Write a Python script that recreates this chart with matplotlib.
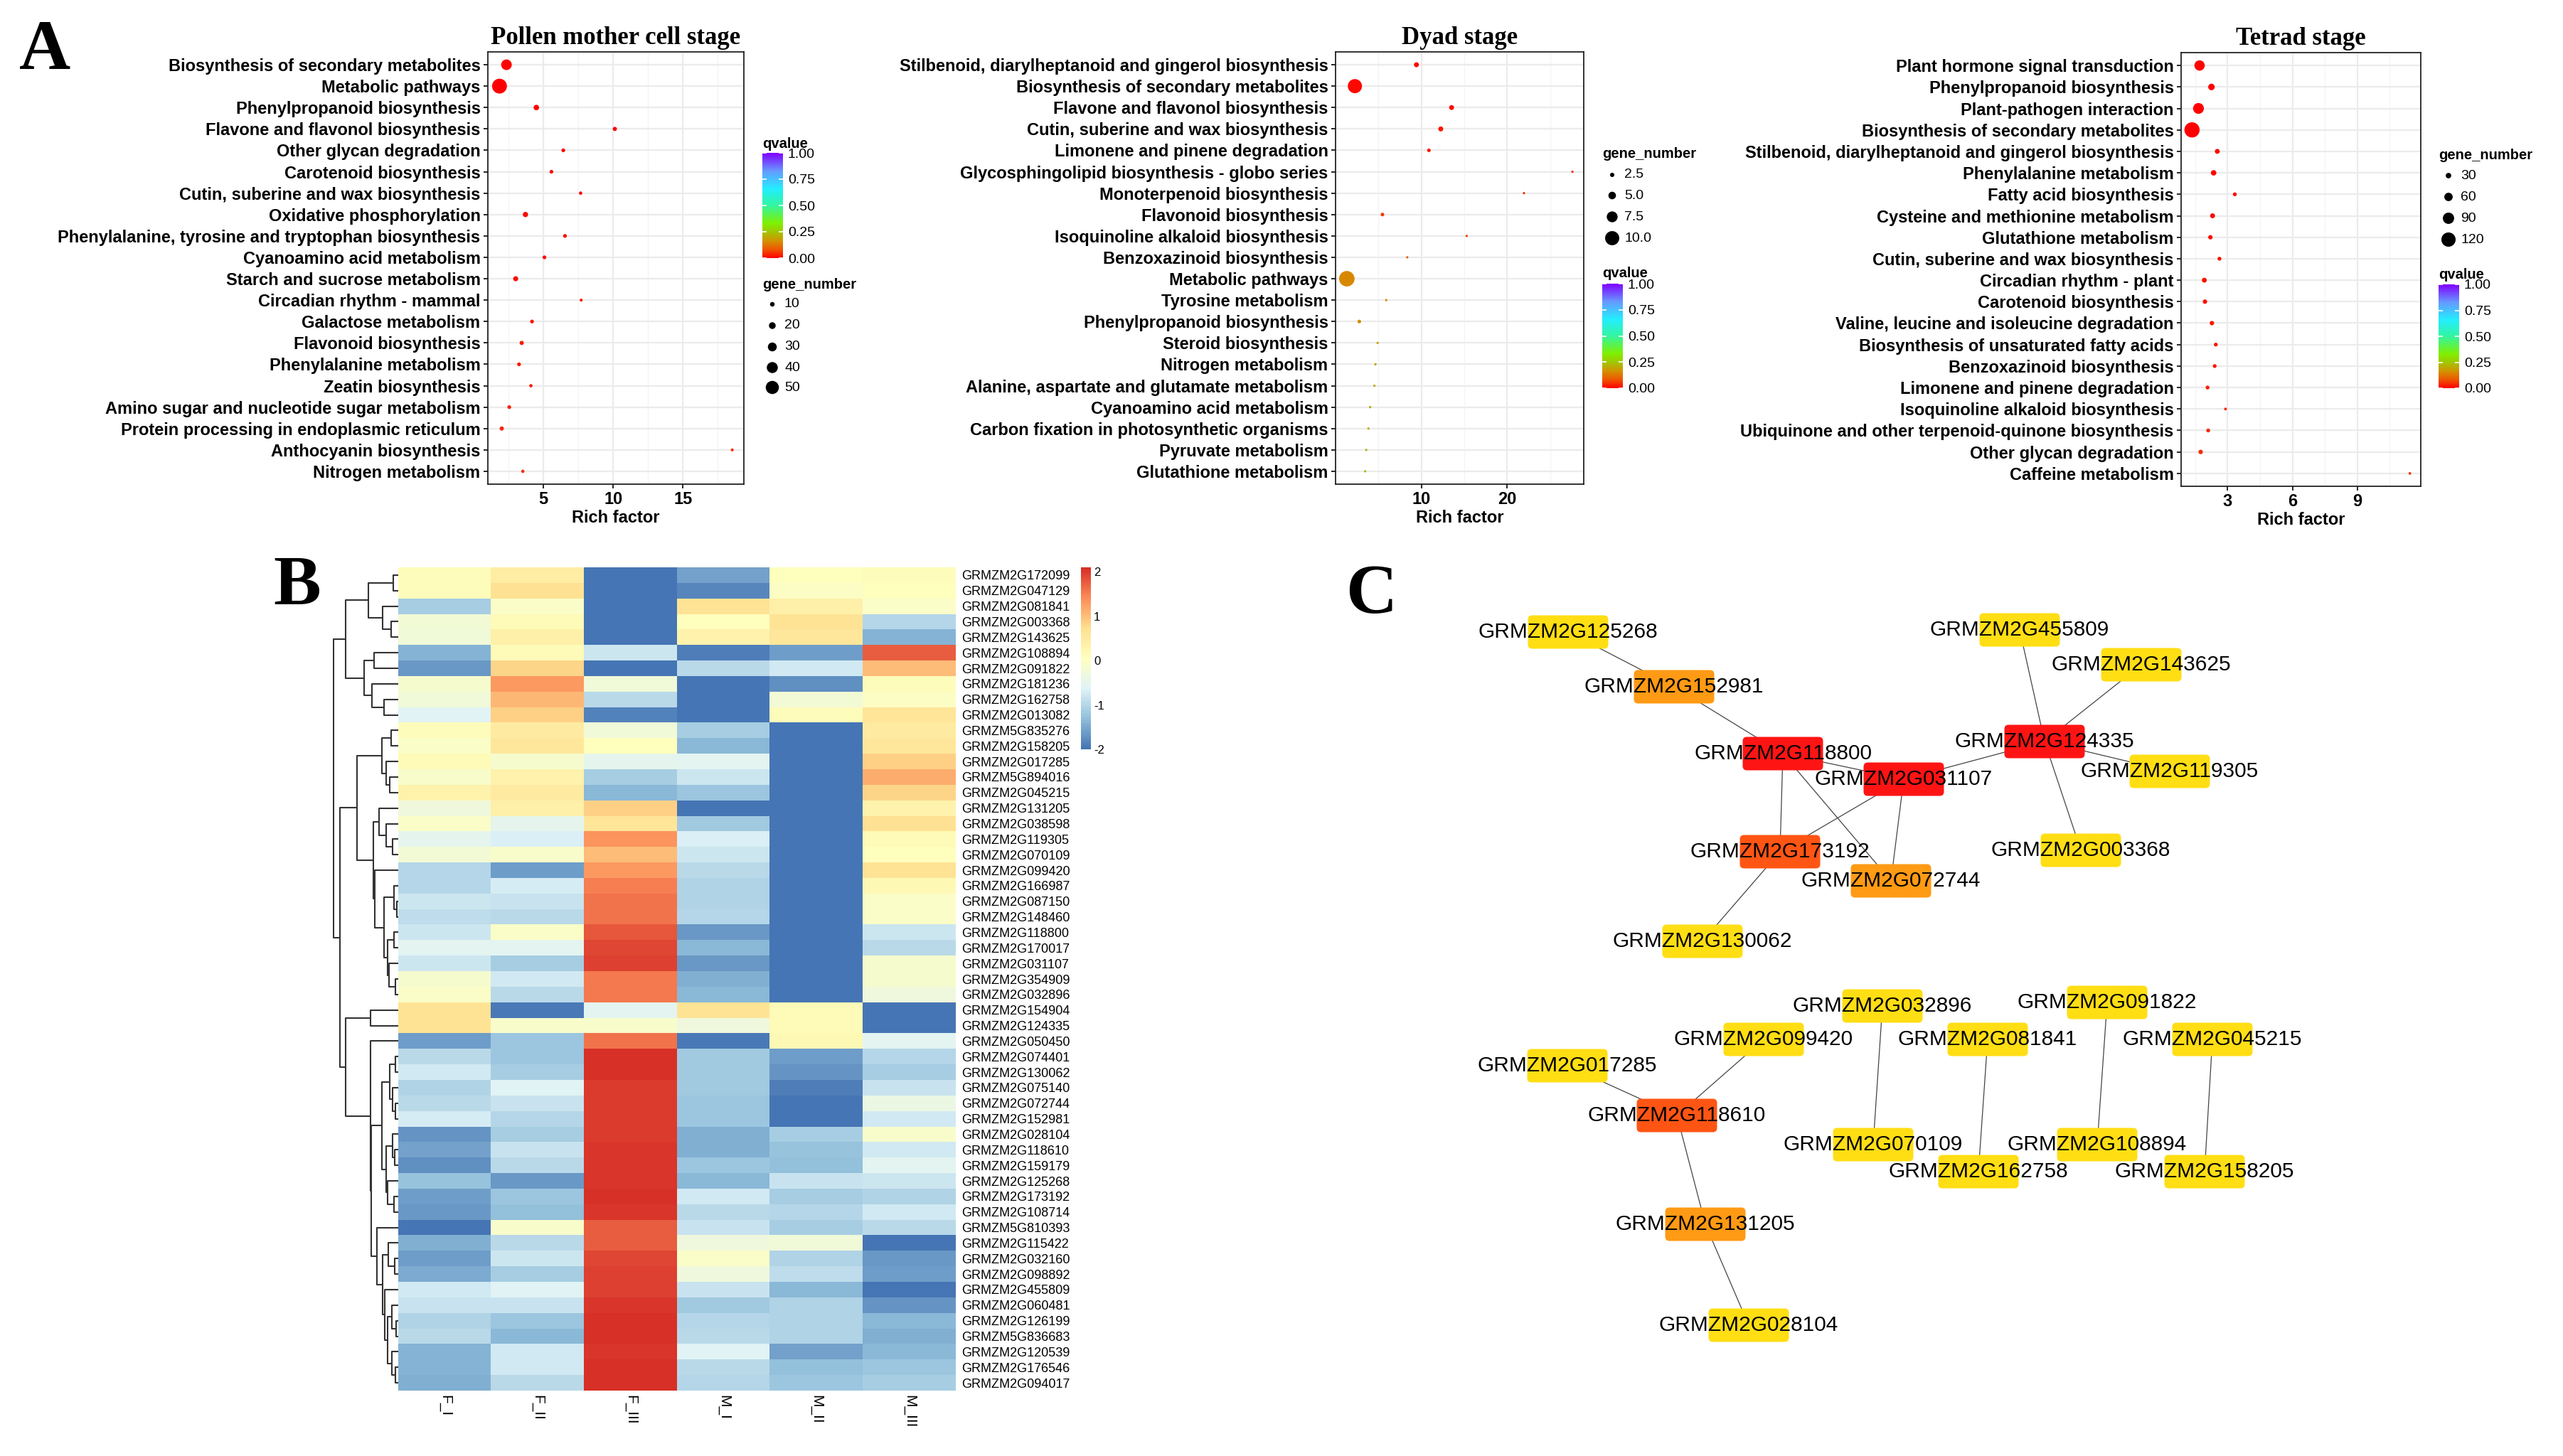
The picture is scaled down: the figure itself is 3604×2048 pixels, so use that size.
import numpy as np
import matplotlib
matplotlib.use("Agg")
import matplotlib.pyplot as plt
from matplotlib.colors import LinearSegmentedColormap, Normalize
from matplotlib.patches import FancyBboxPatch
import matplotlib as mpl

plt.rcParams['font.family'] = ['Liberation Sans', 'DejaVu Sans']

W, H = 3604, 2048

# ---------------- panel A data ----------------
pmc_terms = ["Biosynthesis of secondary metabolites", "Metabolic pathways", "Phenylpropanoid biosynthesis",
             "Flavone and flavonol biosynthesis", "Other glycan degradation", "Carotenoid biosynthesis",
             "Cutin, suberine and wax biosynthesis", "Oxidative phosphorylation",
             "Phenylalanine, tyrosine and tryptophan biosynthesis", "Cyanoamino acid metabolism",
             "Starch and sucrose metabolism", "Circadian rhythm - mammal", "Galactose metabolism",
             "Flavonoid biosynthesis", "Phenylalanine metabolism", "Zeatin biosynthesis",
             "Amino sugar and nucleotide sugar metabolism", "Protein processing in endoplasmic reticulum",
             "Anthocyanin biosynthesis", "Nitrogen metabolism"]
pmc_rich = [2.36, 1.86, 4.5, 10.12, 6.43, 5.58, 7.67, 3.72, 6.55, 5.08, 3.02, 7.71, 4.19, 3.45, 3.26,
            4.11, 2.56, 2.02, 18.53, 3.53]
pmc_genes = [38, 58, 14, 8, 6, 6, 4, 13, 6, 6, 12, 2, 6, 8, 6, 4, 6, 8, 2, 4]
pmc_q = [0.0005, 0.001, 0.002, 0.004, 0.006, 0.008, 0.01, 0.01, 0.012, 0.013, 0.015, 0.02, 0.022,
         0.024, 0.026, 0.03, 0.032, 0.036, 0.04, 0.045]

dyad_terms = ["Stilbenoid, diarylheptanoid and gingerol biosynthesis", "Biosynthesis of secondary metabolites",
              "Flavone and flavonol biosynthesis", "Cutin, suberine and wax biosynthesis",
              "Limonene and pinene degradation", "Glycosphingolipid biosynthesis - globo series",
              "Monoterpenoid biosynthesis", "Flavonoid biosynthesis", "Isoquinoline alkaloid biosynthesis",
              "Benzoxazinoid biosynthesis", "Metabolic pathways", "Tyrosine metabolism",
              "Phenylpropanoid biosynthesis", "Steroid biosynthesis", "Nitrogen metabolism",
              "Alanine, aspartate and glutamate metabolism", "Cyanoamino acid metabolism",
              "Carbon fixation in photosynthetic organisms", "Pyruvate metabolism", "Glutathione metabolism"]
dyad_rich = [9.43, 2.26, 13.52, 12.26, 10.88, 27.6, 21.95, 5.47, 15.28, 8.36, 1.32, 5.91, 2.77, 4.91,
             4.65, 4.53, 4.03, 3.84, 3.58, 3.46]
dyad_genes = [3, 10, 3, 3, 2, 1, 1, 2, 1, 1, 11, 1, 2, 1, 1, 1, 1, 1, 1, 1]
dyad_q = [0.005, 0.01, 0.015, 0.02, 0.025, 0.04, 0.045, 0.055, 0.06, 0.09, 0.15, 0.155, 0.16, 0.18,
          0.195, 0.2, 0.205, 0.21, 0.215, 0.22]

tet_terms = ["Plant hormone signal transduction", "Phenylpropanoid biosynthesis", "Plant-pathogen interaction",
             "Biosynthesis of secondary metabolites", "Stilbenoid, diarylheptanoid and gingerol biosynthesis",
             "Phenylalanine metabolism", "Fatty acid biosynthesis", "Cysteine and methionine metabolism",
             "Glutathione metabolism", "Cutin, suberine and wax biosynthesis", "Circadian rhythm - plant",
             "Carotenoid biosynthesis", "Valine, leucine and isoleucine degradation",
             "Biosynthesis of unsaturated fatty acids", "Benzoxazinoid biosynthesis",
             "Limonene and pinene degradation", "Isoquinoline alkaloid biosynthesis",
             "Ubiquinone and other terpenoid-quinone biosynthesis", "Other glycan degradation",
             "Caffeine metabolism"]
tet_rich = [1.7, 2.25, 1.65, 1.35, 2.52, 2.35, 3.33, 2.3, 2.2, 2.62, 1.92, 1.95, 2.27, 2.45, 2.4, 2.07,
            2.9, 2.1, 1.75, 11.43]
tet_genes = [80, 41, 85, 130, 24, 30, 13, 24, 19, 13, 24, 19, 19, 13, 13, 13, 2, 13, 19, 1]
tet_q = [0.0005, 0.001, 0.001, 0.002, 0.004, 0.006, 0.008, 0.01, 0.012, 0.014, 0.016, 0.018, 0.02,
         0.022, 0.025, 0.03, 0.034, 0.036, 0.04, 0.045]

# ---------------- panel B data ----------------
genes_b = ["GRMZM2G172099", "GRMZM2G047129", "GRMZM2G081841", "GRMZM2G003368", "GRMZM2G143625",
           "GRMZM2G108894", "GRMZM2G091822", "GRMZM2G181236", "GRMZM2G162758", "GRMZM2G013082",
           "GRMZM5G835276", "GRMZM2G158205", "GRMZM2G017285", "GRMZM5G894016", "GRMZM2G045215",
           "GRMZM2G131205", "GRMZM2G038598", "GRMZM2G119305", "GRMZM2G070109", "GRMZM2G099420",
           "GRMZM2G166987", "GRMZM2G087150", "GRMZM2G148460", "GRMZM2G118800", "GRMZM2G170017",
           "GRMZM2G031107", "GRMZM2G354909", "GRMZM2G032896", "GRMZM2G154904", "GRMZM2G124335",
           "GRMZM2G050450", "GRMZM2G074401", "GRMZM2G130062", "GRMZM2G075140", "GRMZM2G072744",
           "GRMZM2G152981", "GRMZM2G028104", "GRMZM2G118610", "GRMZM2G159179", "GRMZM2G125268",
           "GRMZM2G173192", "GRMZM2G108714", "GRMZM5G810393", "GRMZM2G115422", "GRMZM2G032160",
           "GRMZM2G098892", "GRMZM2G455809", "GRMZM2G060481", "GRMZM2G126199", "GRMZM5G836683",
           "GRMZM2G120539", "GRMZM2G176546", "GRMZM2G094017"]
samples_b = ["F_I", "F_II", "F_III", "M_I", "M_II", "M_III"]
expr = [
    [0.10, 0.45, -2.0, -1.55, 0.05, 0.10],
    [0.10, 0.70, -2.0, -1.80, 0.00, 0.05],
    [-1.10, -0.05, -2.0, 0.65, 0.35, -0.05],
    [-0.20, 0.15, -2.0, 0.05, 0.65, -1.00],
    [-0.25, 0.35, -2.0, 0.30, 0.55, -1.40],
    [-1.40, 0.15, -0.80, -1.90, -1.60, 1.75],
    [-1.65, 0.80, -2.0, -0.95, -0.75, 1.00],
    [-0.15, 1.30, -0.25, -2.0, -1.75, 0.10],
    [-0.25, 1.05, -0.95, -2.0, -0.20, 0.00],
    [-0.60, 0.85, -1.85, -2.0, 0.10, 0.60],
    [0.10, 0.50, -0.25, -1.10, -2.0, 0.50],
    [-0.05, 0.55, 0.05, -1.35, -2.0, 0.55],
    [0.15, -0.15, -0.50, -0.55, -2.0, 0.85],
    [-0.10, 0.30, -1.10, -0.80, -2.0, 1.15],
    [0.30, 0.50, -1.35, -1.20, -2.0, 0.80],
    [-0.30, 0.35, 0.85, -2.0, -2.0, 0.30],
    [-0.05, -0.50, 0.60, -1.15, -2.0, 0.70],
    [-0.50, -0.65, 1.35, -0.65, -2.0, 0.15],
    [-0.20, -0.10, 1.00, -0.80, -2.0, 0.05],
    [-1.00, -1.60, 1.30, -0.95, -2.0, 0.65],
    [-1.00, -0.70, 1.50, -1.05, -2.0, 0.20],
    [-0.80, -0.85, 1.60, -1.05, -2.0, -0.05],
    [-0.90, -0.95, 1.60, -1.00, -2.0, -0.05],
    [-0.80, -0.05, 1.80, -1.65, -2.0, -0.80],
    [-0.55, -0.55, 1.90, -1.35, -2.0, -0.95],
    [-0.80, -1.10, 1.95, -1.65, -2.0, -0.15],
    [-0.15, -0.75, 1.55, -1.45, -2.0, -0.15],
    [-0.05, -0.95, 1.55, -1.35, -2.0, -0.30],
    [0.65, -1.95, -0.55, 0.65, 0.15, -2.0],
    [0.65, -0.10, -0.10, -0.30, 0.15, -2.0],
    [-1.60, -1.20, 1.60, -1.95, 0.20, -0.55],
    [-0.95, -1.20, 2.10, -1.15, -1.60, -1.00],
    [-0.75, -1.10, 2.10, -1.15, -1.70, -1.10],
    [-1.05, -0.60, 2.00, -1.15, -1.90, -0.85],
    [-0.95, -0.85, 2.00, -1.20, -2.0, -0.40],
    [-0.70, -1.00, 2.00, -1.20, -2.0, -0.75],
    [-1.70, -1.10, 2.00, -1.45, -1.10, -0.10],
    [-1.55, -0.85, 2.05, -1.45, -1.25, -0.75],
    [-1.75, -0.95, 2.05, -1.20, -1.30, -0.55],
    [-1.25, -1.65, 2.05, -1.35, -0.85, -0.80],
    [-1.60, -1.20, 2.10, -0.75, -1.10, -1.05],
    [-1.65, -1.30, 2.05, -0.95, -1.00, -0.75],
    [-2.0, -0.10, 1.75, -0.85, -1.10, -0.95],
    [-1.45, -0.95, 1.75, -0.30, -0.25, -2.0],
    [-1.60, -0.80, 1.90, -0.05, -1.05, -1.65],
    [-1.50, -1.10, 1.95, -0.30, -0.90, -1.60],
    [-0.75, -0.60, 1.95, -0.85, -1.35, -2.0],
    [-0.85, -0.85, 2.05, -1.15, -1.05, -1.70],
    [-1.05, -1.20, 2.10, -1.00, -1.05, -1.35],
    [-0.95, -1.35, 2.10, -0.95, -1.05, -1.45],
    [-1.40, -0.75, 2.05, -0.60, -1.55, -1.35],
    [-1.40, -0.75, 2.10, -0.95, -1.30, -1.20],
    [-1.45, -0.95, 2.10, -1.00, -1.20, -1.10],
]
# row dendrogram: [merge height, left, right], leaves are row indices
row_tree = [89.3,
            [72.7,
             [41, [7.3, 0, 1], [21.7, 2, [9.3, 3, 4]]],
             [47, [33, 5, 6], [36, 7, [20, 8, 9]]]],
            [80,
             [56.7,
              [22.3, [9.3, 10, 11], [16.7, 12, [11.3, 13, 14]]],
              [34.3,
               [26, 15, [16.7, 16, [8.3, 17, 18]]],
               [32.3, 19, [20, [5.7, 20, [2.3, 21, 22]],
                           [15, [5.7, 23, 24], [12.7, 25, [4.3, 26, 27]]]]]]],
             [72.7,
              [38, 28, 29],
              [38, 30,
               [36.7,
                [22.7,
                 [11.7, [4.3, 31, 32], [8.3, 33, [4.3, 34, 35]]],
                 [16.7, [8.3, 36, [5, 37, 38]], [14.3, 39, [5.7, 40, 41]]]],
                [29.3, 42,
                 [21.7, [13.3, 43, [5, 44, 45]],
                  [19, 46, [14.3, [9, 47, [3.3, 48, 49]], [9, 50, [4.3, 51, 52]]]]]]]]]]]

# ---------------- panel C data ----------------
node_names = ["GRMZM2G125268", "GRMZM2G152981", "GRMZM2G118800", "GRMZM2G031107", "GRMZM2G124335",
              "GRMZM2G455809", "GRMZM2G143625", "GRMZM2G119305", "GRMZM2G003368", "GRMZM2G173192",
              "GRMZM2G072744", "GRMZM2G130062", "GRMZM2G017285", "GRMZM2G099420", "GRMZM2G032896",
              "GRMZM2G091822", "GRMZM2G081841", "GRMZM2G045215", "GRMZM2G118610", "GRMZM2G070109",
              "GRMZM2G108894", "GRMZM2G162758", "GRMZM2G158205", "GRMZM2G131205", "GRMZM2G028104"]
# layout coordinates
node_x = [2205, 2354, 2507, 2677, 2875, 2840, 3011, 3051, 2926, 2503, 2659, 2394, 2204, 2480, 2647,
          2963, 2795, 3111, 2358, 2634, 2949, 2782, 3100, 2398, 2459]
node_y = [889, 966, 1060, 1096, 1043, 886, 935, 1085, 1196, 1198, 1239, 1324, 1499, 1462, 1415,
          1410, 1462, 1462, 1569, 1610, 1610, 1648, 1648, 1722, 1864]
edges = [("GRMZM2G125268", "GRMZM2G152981"), ("GRMZM2G152981", "GRMZM2G118800"),
         ("GRMZM2G118800", "GRMZM2G031107"), ("GRMZM2G118800", "GRMZM2G173192"),
         ("GRMZM2G118800", "GRMZM2G072744"), ("GRMZM2G031107", "GRMZM2G173192"),
         ("GRMZM2G031107", "GRMZM2G072744"), ("GRMZM2G031107", "GRMZM2G124335"),
         ("GRMZM2G124335", "GRMZM2G455809"), ("GRMZM2G124335", "GRMZM2G143625"),
         ("GRMZM2G124335", "GRMZM2G119305"), ("GRMZM2G124335", "GRMZM2G003368"),
         ("GRMZM2G173192", "GRMZM2G130062"), ("GRMZM2G017285", "GRMZM2G118610"),
         ("GRMZM2G099420", "GRMZM2G118610"), ("GRMZM2G118610", "GRMZM2G131205"),
         ("GRMZM2G131205", "GRMZM2G028104"), ("GRMZM2G032896", "GRMZM2G070109"),
         ("GRMZM2G081841", "GRMZM2G162758"), ("GRMZM2G091822", "GRMZM2G108894"),
         ("GRMZM2G045215", "GRMZM2G158205")]
degree_colors = {1: "#FFDE14", 2: "#FF9A14", 3: "#FF5514", 4: "#FF1414", 5: "#FF1414"}

# ---------------- figure ----------------
fig = plt.figure(figsize=(W / 100, H / 100), dpi=100)


def px_axes(x0, y0, x1, y1):
    return fig.add_axes([x0 / W, 1 - y1 / H, (x1 - x0) / W, (y1 - y0) / H])


# overlay axes in pixel units for legends and panel letters
ov = px_axes(0, 0, W, H)
ov.set_xlim(0, W)
ov.set_ylim(H, 0)
ov.axis("off")
ov.patch.set_alpha(0)

qcmap = LinearSegmentedColormap.from_list("q", [(0, "#FF0000"), (0.08, "#EE5500"), (0.16, "#D49000"),
                                                (0.25, "#A0C800"), (0.33, "#7FF000"), (0.5, "#33F5A0"),
                                                (0.66, "#22EEFF"), (0.83, "#6699FF"), (1.0, "#8000FF")])


def dot_px(v, a, b):
    return a + b * np.asarray(v, dtype=float)


def enrich_panel(box, title, terms, rich, genes, qv, xticks, size_ab):
    ax = px_axes(*box)
    y = np.arange(len(terms))
    d = dot_px(genes, *size_ab)
    ax.scatter(rich, y, s=(d * 0.72) ** 2, c=qv, cmap=qcmap, vmin=0, vmax=1,
               edgecolors="none", zorder=3)
    lo, hi = min(rich), max(rich)
    pad = 0.05 * (hi - lo)
    ax.set_xlim(lo - pad, hi + pad)
    ax.set_ylim(len(terms) - 0.4, -0.6)
    ax.set_yticks(y)
    ax.set_yticklabels(terms, fontweight="bold", fontsize=17)
    ax.set_xticks(xticks)
    step = xticks[1] - xticks[0]
    ax.set_xticks(np.arange(xticks[0] - step / 2, hi + pad, step), minor=True)
    ax.set_xticklabels([str(t) for t in xticks], fontweight="bold", fontsize=17)
    ax.tick_params(which="major", direction="out", length=4.5, width=1.2, colors="black", pad=3)
    ax.tick_params(which="minor", length=0)
    ax.grid(which="major", color="#EBEBEB", lw=1.6, zorder=0)
    ax.grid(which="minor", axis="x", color="#F4F4F4", lw=0.9, zorder=0)
    ax.set_axisbelow(True)
    for s in ax.spines.values():
        s.set_color("#222222")
        s.set_linewidth(1.3)
    ax.set_xlabel("Rich factor", fontweight="bold", fontsize=17, labelpad=2)
    ax.set_title(title, fontfamily="Liberation Serif", fontweight="bold", fontsize=25, pad=8)
    return ax


def q_legend(x, y_title, y0, y1):
    ov.text(x, y_title, "qvalue", fontsize=14.5, fontweight="bold", va="center", ha="left")
    cax = px_axes(x, y0, x + 29, y1)
    cb = mpl.colorbar.ColorbarBase(cax, cmap=qcmap, norm=Normalize(0, 1), orientation="vertical")
    cb.outline.set_visible(False)
    ticks = [0, 0.25, 0.5, 0.75, 1.0]
    cb.set_ticks(ticks)
    cb.set_ticklabels(["%.2f" % t for t in ticks])
    cax.tick_params(length=0, labelsize=14, pad=5)
    cax.hlines(ticks, 0, 0.2, colors="white", lw=1.2)
    cax.hlines(ticks, 0.8, 1, colors="white", lw=1.2)


def size_legend(x, y_title, ys, vals, labels, size_ab):
    ov.text(x, y_title, "gene_number", fontsize=14.5, fontweight="bold", va="center", ha="left")
    d = dot_px(vals, *size_ab)
    ov.scatter([x + 14] * len(vals), ys, s=(d * 0.72) ** 2, c="black", edgecolors="none")
    for yy, lab in zip(ys, labels):
        ov.text(x + 31, yy, lab, fontsize=14, va="center", ha="left")


pollen_ab = (3.5, 0.3)
dyad_ab = (1.4, 1.85)
tet_ab = (3.6, 0.137)

enrich_panel((686, 73, 1046, 681), "Pollen mother cell stage", pmc_terms, pmc_rich, pmc_genes, pmc_q,
             [5, 10, 15], pollen_ab)
q_legend(1072, 202, 215, 363)
size_legend(1072, 400, [428, 458, 488, 517, 545], [10, 20, 30, 40, 50], ["10", "20", "30", "40", "50"],
            pollen_ab)

enrich_panel((1878, 73, 2227, 681), "Dyad stage", dyad_terms, dyad_rich, dyad_genes, dyad_q,
             [10, 20], dyad_ab)
size_legend(2253, 217, [246, 275, 305, 335], [2.5, 5.0, 7.5, 10.0], ["2.5", "5.0", "7.5", "10.0"], dyad_ab)
q_legend(2253, 384, 399, 546)

enrich_panel((3067, 74, 3404, 684), "Tetrad stage", tet_terms, tet_rich, tet_genes, tet_q,
             [3, 6, 9], tet_ab)
size_legend(3429, 218, [247, 277, 307, 337], [30, 60, 90, 120], ["30", "60", "90", "120"], tet_ab)
q_legend(3429, 386, 400, 546)

# ---------------- panel B ----------------
data = np.array(expr)
heat_cmap = LinearSegmentedColormap.from_list("rdylbu", ["#4575B4", "#91BFDB", "#E0F3F8", "#FFFFBF",
                                                         "#FEE090", "#FC8D59", "#D73027"], N=100)
hnorm = Normalize(data.min(), data.max())
hax = px_axes(560, 798, 1344, 1956)
hax.imshow(data, cmap=heat_cmap, norm=hnorm, aspect="auto", interpolation="nearest")
hax.set_xticks(range(len(samples_b)))
hax.set_xticklabels(samples_b, rotation=-90, fontsize=15, va="top", ha="center")
hax.set_yticks(range(len(genes_b)))
hax.set_yticklabels(genes_b, fontsize=13)
hax.yaxis.tick_right()
hax.tick_params(length=0)
hax.tick_params(axis="y", pad=6)
hax.tick_params(axis="x", pad=4)
for s in hax.spines.values():
    s.set_visible(False)

dax = px_axes(468, 798, 560, 1956)
dax.set_xlim(90, 0)
dax.set_ylim(len(genes_b) - 0.5, -0.5)
dax.axis("off")


def draw_tree(node):
    if isinstance(node, int):
        return float(node), 0.0
    h, left, right = node
    yl, hl = draw_tree(left)
    yr, hr = draw_tree(right)
    dax.plot([hl, h, h, hr], [yl, yl, yr, yr], color="#333333", lw=1.5, solid_capstyle="butt")
    return (yl + yr) / 2, h


draw_tree(row_tree)

hcax = px_axes(1520, 798, 1534, 1054)
hcb = mpl.colorbar.ColorbarBase(hcax, cmap=heat_cmap, norm=hnorm, orientation="vertical")
hcb.outline.set_visible(False)
hcb.set_ticks([-2, -1, 0, 1, 2])
hcb.set_ticklabels(["-2", "-1", "0", "1", "2"])
hcax.tick_params(length=0, labelsize=12, pad=3)

# ---------------- panel C ----------------
nax = px_axes(1880, 760, W, H)
nax.set_xlim(1880, W)
nax.set_ylim(H, 760)
nax.axis("off")
pos = {n: (x, y) for n, x, y in zip(node_names, node_x, node_y)}
degree = {n: 0 for n in node_names}
for a, b in edges:
    degree[a] += 1
    degree[b] += 1
    nax.plot([pos[a][0], pos[b][0]], [pos[a][1], pos[b][1]], color="#444444", lw=0.9, zorder=1)
bw, bh = 113, 47
for n in node_names:
    x, y = pos[n]
    nax.add_patch(FancyBboxPatch((x - bw / 2, y - bh / 2), bw, bh,
                                 boxstyle="round,pad=0,rounding_size=6",
                                 fc=degree_colors[degree[n]], ec="none", zorder=2))
for n in node_names:
    x, y = pos[n]
    nax.text(x, y, n, fontsize=21.5, ha="center", va="center", color="black", zorder=3)

# panel letters
for letter, x, y in [("A", 27, 97), ("B", 384, 849), ("C", 1892, 862)]:
    ov.text(x, y, letter, fontsize=72, fontfamily="Liberation Serif", fontweight="bold",
            ha="left", va="baseline")

fig.savefig("out.png", dpi=100)
